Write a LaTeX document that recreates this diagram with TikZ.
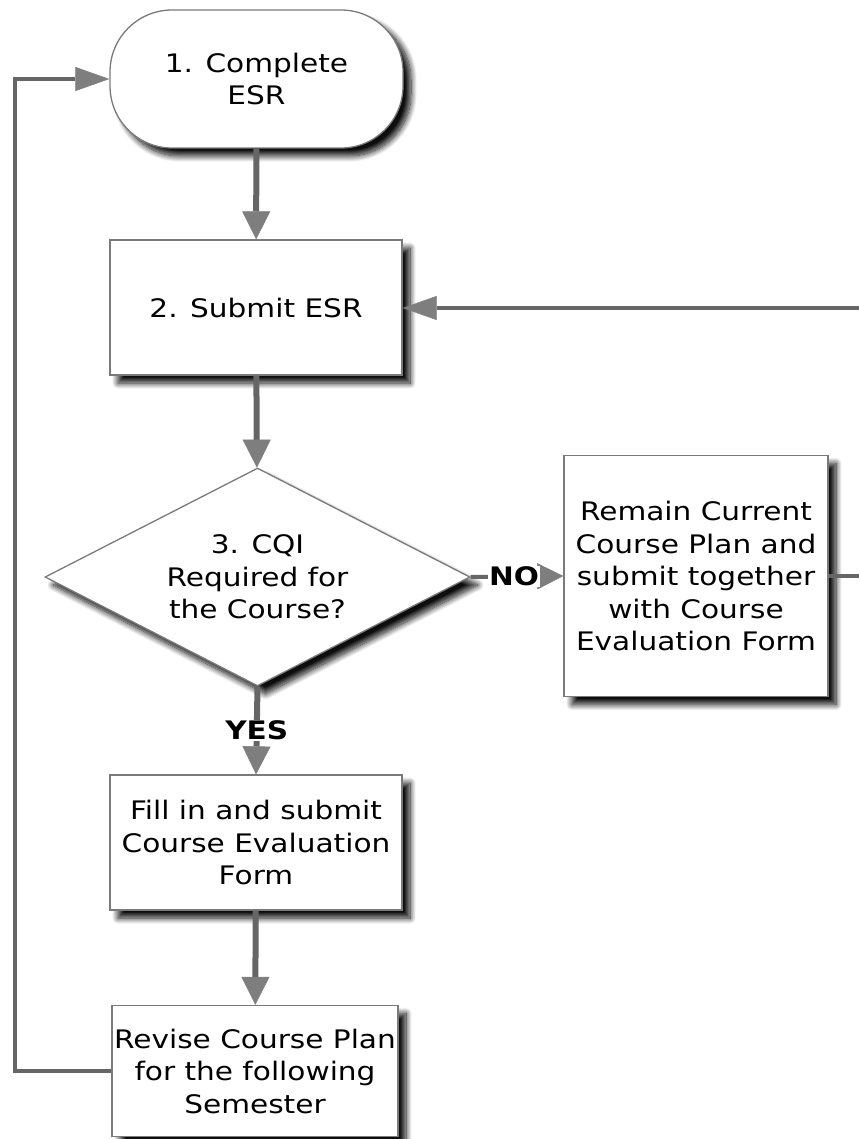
\documentclass[tikz,border=0pt]{standalone}
\usepackage{fontspec}
\setmainfont{DejaVu Sans}[FakeStretch=1.16]
\usetikzlibrary{shapes.geometric,arrows.meta,shadows.blur}
\definecolor{edgegray}{HTML}{666666}
\definecolor{tipgray}{HTML}{7E7E7E}
\definecolor{bordergray}{HTML}{7A7A7A}
\begin{document}
\begin{tikzpicture}[x=1pt,y=-1pt,
  every node/.style={font=\fontsize{25.5}{32.5}\selectfont},
  shapebase/.style={draw=bordergray, line width=1.3pt, fill=white, align=center, inner sep=0pt,
    blur shadow={shadow xshift=8pt, shadow yshift=-8pt, shadow blur radius=6pt, shadow blur steps=12, shadow opacity=95}},
  stepbox/.style={shapebase, rectangle},
  termbox/.style={shapebase, rectangle, rounded corners=62pt, minimum width=293pt, minimum height=138pt},
  decbox/.style={shapebase, diamond, aspect=1.95, minimum width=425pt, minimum height=218pt},
  mainarrow/.style={draw=edgegray, line width=6pt, -{Triangle[width=28pt,length=28pt,line width=0.5pt,color=tipgray]}},
  thinarrow/.style={draw=edgegray, line width=4pt, -{Triangle[width=26pt,length=26pt,line width=0.5pt,color=tipgray]}},
  loopline/.style={draw=edgegray, line width=3.5pt},
  looparrow/.style={loopline, -{Triangle[width=24pt,length=34pt,line width=0.5pt,color=tipgray]}},
  lbl/.style={fill=white, inner sep=1pt, font=\fontsize{25.5}{30}\selectfont\bfseries}
]
\useasboundingbox (0,0) rectangle (859,1139);

\node[termbox] (t1) at (256.5,79) {1. Complete\\ESR};
\node[stepbox, minimum width=292pt, minimum height=135pt] (b2) at (256,307.5) {2. Submit ESR};
\node[decbox] (d3) at (257.5,577) {3. CQI\\Required for\\the Course?};
\node[stepbox, minimum width=264pt, minimum height=241pt] (rm) at (696,576) {Remain Current\\Course Plan and\\submit together\\with Course\\Evaluation Form};
\node[stepbox, minimum width=292pt, minimum height=135pt] (fi) at (256,842.5) {Fill in and submit\\Course Evaluation\\Form};
\node[stepbox, minimum width=286pt, minimum height=131pt] (rv) at (255,1071) {Revise Course Plan\\for the following\\Semester};

\coordinate (L2) at (15,79);
\coordinate (R1) at (859,577);
\coordinate (R2) at (859,308);

\draw[mainarrow] (t1) -- (b2);
\draw[mainarrow] (b2) -- (d3);
\draw[thinarrow] (d3.east) -- node[lbl, xshift=-3pt] {NO} (rm.west);
\draw[mainarrow] (d3.south) -- node[lbl] {YES} (fi.north);
\draw[mainarrow] (fi) -- (rv);
\draw[looparrow] (rv.west) -| (L2) -- (t1.west);
\draw[loopline] (rm.east) -- (rm.east -| R1);
\draw[looparrow] (R2) -- (R2 -| b2.east);
\end{tikzpicture}
\end{document}
